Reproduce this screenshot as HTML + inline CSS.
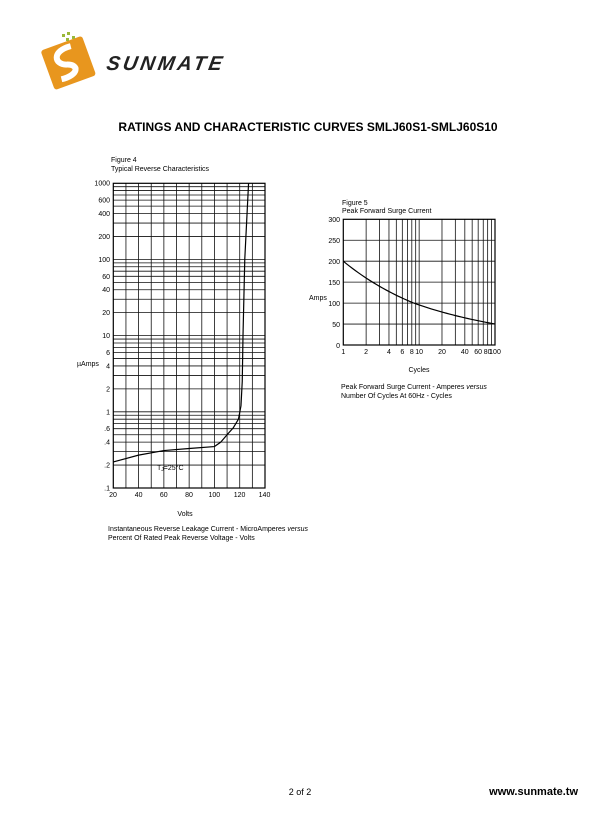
<!DOCTYPE html>
<html><head><meta charset="utf-8"><style>
body{margin:0;background:#fff;width:610px;height:810px;overflow:hidden;font-family:"Liberation Sans",sans-serif}
</style></head><body>
<svg width="610" height="810" xmlns="http://www.w3.org/2000/svg" font-family="Liberation Sans, sans-serif">
<!-- logo -->
<g transform="translate(68,62) rotate(-20)">
<rect x="-22" y="-20" width="44" height="42" rx="3" fill="#e8961e"/>
<path d="M8,-14 C-12,-16 -14,-2 -2,2 C10,6 6,16 -12,14" stroke="#fff" stroke-width="6" fill="none"/>
</g>
<g fill="#9ab83a"><rect x="62" y="34" width="3" height="3"/><rect x="67" y="32" width="3" height="3"/><rect x="72" y="36" width="3" height="3"/><rect x="66" y="38" width="3" height="3"/></g>
<text x="106" y="70" font-size="20" font-weight="bold" font-style="italic" fill="#222" letter-spacing="3" transform="skewX(-10) translate(12,0)">SUNMATE</text>
<text x="308" y="131" font-size="12" font-weight="bold" text-anchor="middle">RATINGS AND CHARACTERISTIC CURVES SMLJ60S1-SMLJ60S10</text>
<text x="111" y="162" font-size="7">Figure 4</text>
<text x="111" y="171" font-size="7">Typical Reverse Characteristics</text>
<g id="g4" stroke="#111" stroke-width="0.8"></g>
<rect x="113.3" y="183.3" width="151.7" height="304.7" fill="none" stroke="#000" stroke-width="1.2"/>
<g font-size="7" text-anchor="end" id="l4"></g>
<text x="77" y="366" font-size="7">µAmps</text>
<g font-size="7" text-anchor="middle">
<text x="113" y="497">20</text><text x="138.6" y="497">40</text><text x="163.8" y="497">60</text><text x="189" y="497">80</text><text x="214.3" y="497">100</text><text x="239.6" y="497">120</text><text x="264.5" y="497">140</text>
<text x="185" y="516">Volts</text></g>
<text x="157" y="470" font-size="7">T<tspan font-size="5" dy="1">J</tspan><tspan dy="-1">=25°C</tspan></text>
<text x="108" y="531" font-size="7">Instantaneous Reverse Leakage Current - MicroAmperes <tspan font-style="italic">versus</tspan></text>
<text x="108" y="540" font-size="7">Percent Of Rated Peak Reverse Voltage - Volts</text>
<path id="c4" fill="none" stroke="#000" stroke-width="1.2"/>

<text x="342" y="205" font-size="7">Figure 5</text>
<text x="342" y="213" font-size="7">Peak Forward Surge Current</text>
<g id="g5" stroke="#111" stroke-width="0.8"></g>
<rect x="343.3" y="219.3" width="151.7" height="125.7" fill="none" stroke="#000" stroke-width="1.2"/>
<g font-size="7" text-anchor="end">
<text x="340" y="222">300</text><text x="340" y="243">250</text><text x="340" y="264">200</text><text x="340" y="285">150</text><text x="340" y="306">100</text><text x="340" y="327">50</text><text x="340" y="348">0</text></g>
<text x="309" y="300" font-size="7">Amps</text>
<g font-size="7" text-anchor="middle" id="l5"></g>
<text x="419" y="372" font-size="7" text-anchor="middle">Cycles</text>
<text x="341" y="389" font-size="7">Peak Forward Surge Current - Amperes <tspan font-style="italic">versus</tspan></text>
<text x="341" y="398" font-size="7">Number Of Cycles At 60Hz - Cycles</text>
<path id="c5" fill="none" stroke="#000" stroke-width="1.2"/>

<text x="300" y="795" font-size="9" text-anchor="middle">2 of 2</text>
<text x="578" y="795" font-size="11" font-weight="bold" text-anchor="end">www.sunmate.tw</text>
</svg>
<script>
var NS="http://www.w3.org/2000/svg";
function el(p,t,a,txt){var e=document.createElementNS(NS,t);for(var k in a)e.setAttribute(k,a[k]);if(txt)e.textContent=txt;p.appendChild(e);return e;}
var g4=document.getElementById('g4'),l4=document.getElementById('l4');
function y4(v){return 488-76.2*(Math.log10(v)+1);}
for(var d=-1;d<3;d++)for(var m=1;m<10;m++){var y=y4(m*Math.pow(10,d));el(g4,'line',{x1:113.3,x2:265,y1:y,y2:y});}
for(var v=30;v<140;v+=10){var x=113.3+(v-20)*151.7/120;el(g4,'line',{x1:x,x2:x,y1:183.3,y2:488});}
[[1000,'1000'],[600,'600'],[400,'400'],[200,'200'],[100,'100'],[60,'60'],[40,'40'],[20,'20'],[10,'10'],[6,'6'],[4,'4'],[2,'2'],[1,'1'],[.6,'.6'],[.4,'.4'],[.2,'.2'],[.1,'.1']].forEach(function(p){el(l4,'text',{x:110,y:y4(p[0])+2.5},p[1]);});
var pts=[[20,.22],[40,.27],[60,.31],[80,.33],[100,.35],[105,.4],[110,.5],[115,.62],[119,.8],[121,1.2],[122,2.5],[122.6,10],[124,100],[127,1000]];
document.getElementById('c4').setAttribute('d',pts.map(function(p,i){return (i?'L':'M')+(113.3+(p[0]-20)*151.7/120)+','+y4(p[1]);}).join(''));
var g5=document.getElementById('g5'),l5=document.getElementById('l5');
function x5(c){return 343.3+75.85*Math.log10(c);}function y5(v){return 345-v*125.7/300;}
for(var v=50;v<300;v+=50)el(g5,'line',{x1:343.3,x2:495,y1:y5(v),y2:y5(v)});
[2,3,4,5,6,7,8,9,10,20,30,40,50,60,70,80,90].forEach(function(c){el(g5,'line',{x1:x5(c),x2:x5(c),y1:219.3,y2:345});});
[1,2,4,6,8,10,20,40,60,80,100].forEach(function(c){el(l5,'text',{x:x5(c),y:354},String(c));});
var d5='';for(var i=0;i<=50;i++){var c=Math.pow(100,i/50);var A=c<=8.5?200*Math.pow(c,-0.324):100*Math.pow(c/8.5,-0.28);d5+=(i?'L':'M')+x5(c)+','+y5(A);}
document.getElementById('c5').setAttribute('d',d5);
</script>
</body></html>
